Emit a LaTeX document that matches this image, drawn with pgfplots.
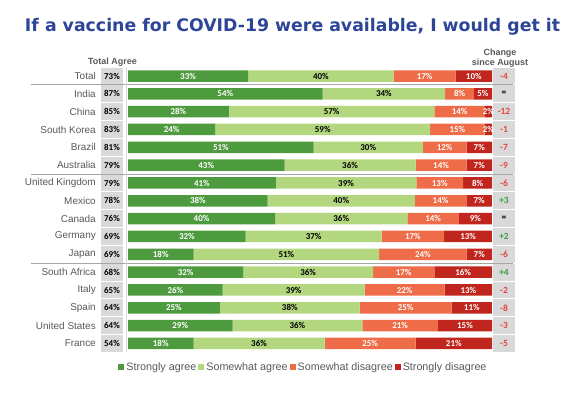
\documentclass[border=0pt]{standalone}
\usepackage{pgfplots}
\pgfplotsset{compat=1.18}
\usepackage{pgfplotstable}
\usepackage{fontspec}
\setmainfont{Liberation Sans}
\newfontfamily\carl{Carlito}
\newfontfamily\dejavu{DejaVu Sans}
\definecolor{dgreen}{HTML}{4E9A3E}
\definecolor{lgreen}{HTML}{B3D77F}
\definecolor{orng}{HTML}{EE6C47}
\definecolor{dred}{HTML}{C0261E}
\definecolor{boxgray}{HTML}{D9D9D9}
\definecolor{textgray}{HTML}{595959}
\definecolor{titleblue}{HTML}{2C4596}
\definecolor{chred}{HTML}{E8453C}
\definecolor{chgreen}{HTML}{3F9A3F}
\definecolor{sepgray}{HTML}{A6A6A6}

\pgfplotstableread{
idx ta sa sw sd sdd
0 73 33 40 17 10
1 87 54 34 8 5
2 85 28 57 14 2
3 83 24 59 15 2
4 81 51 30 12 7
5 79 43 36 14 7
6 79 41 39 13 8
7 78 38 40 14 7
8 76 40 36 14 9
9 69 32 37 17 13
10 69 18 51 24 7
11 68 32 36 17 16
12 65 26 39 22 13
13 64 25 38 25 11
14 64 29 36 21 15
15 54 18 36 25 21
}\data

\newcommand\tot{(\thisrow{sa}+\thisrow{sw}+\thisrow{sd}+\thisrow{sdd})}

\begin{document}
\begin{tikzpicture}
\path[use as bounding box] (0,0) rectangle (580bp,-393bp);
\pgfplotsset{base/.style={scale only axis, width=364bp, height=285.3bp,
  xmin=0, xmax=100, ymin=-0.5, ymax=15.5, y dir=reverse,
  at={(128bp,-67.08bp)}, anchor=north west,
  /pgf/number format/assume math mode=true}}
\begin{axis}[base, xbar stacked, bar width=11.5bp,
  axis line style={draw=none}, tick style={draw=none},
  xtick=\empty, ytick={0,...,15},
  yticklabels={Total, India, China, South Korea, Brazil, Australia, United Kingdom, Mexico, Canada, Germany, Japan, South Africa, Italy, Spain, United States, France},
  yticklabel style={font=\fontsize{10}{12}\selectfont, text=textgray, xshift=-28.7bp},
  legend columns=4,
  legend style={draw=none, fill=none, at={(0.482,-0.0512)}, anchor=center,
    font=\fontsize{10.8}{12}\selectfont, text=textgray,
    /tikz/every even column/.append style={column sep=0bp},
    inner sep=0pt},
  legend image code/.code={\fill[#1] (0bp,-3bp) rectangle (6bp,3bp);},
  ]
\addplot[fill=dgreen, draw=none] table[x expr=\thisrow{sa}*100/\tot, y=idx] {\data};
\addplot[fill=lgreen, draw=none] table[x expr=\thisrow{sw}*100/\tot, y=idx] {\data};
\addplot[fill=orng, draw=none] table[x expr=\thisrow{sd}*100/\tot, y=idx] {\data};
\addplot[fill=dred, draw=none] table[x expr=\thisrow{sdd}*100/\tot, y=idx] {\data};
\legend{Strongly agree, Somewhat agree, Somewhat disagree, Strongly disagree}
\end{axis}

\begin{axis}[base, hide axis, clip=false]
\pgfplotsinvokeforeach{0,...,15}{
  \fill[boxgray] (axis cs:-7.42,#1-0.47) rectangle (axis cs:-1.37,#1+0.47);
  \fill[boxgray] (axis cs:100.27,#1-0.47) rectangle (axis cs:106.3,#1+0.47);
}
\draw[sepgray, line width=1bp] (axis cs:-26.65,0.5) -- (axis cs:105.8,0.5);
\draw[sepgray, line width=1bp] (axis cs:-26.65,5.5) -- (axis cs:105.8,5.5);
\draw[sepgray, line width=1bp] (axis cs:-26.65,10.5) -- (axis cs:105.8,10.5);
\draw[gray!30, line width=0.6bp] (axis cs:-0.55,-0.5) -- (axis cs:-0.55,15.5);

\addplot[draw=none, point meta=explicit,
  nodes near coords={\pgfmathprintnumber{\pgfplotspointmeta}\%},
  every node near coord/.append style={anchor=center, text=white, font=\carl\bfseries\fontsize{9}{10}\selectfont}]
  table[x expr=\thisrow{sa}*50/\tot, y=idx, meta=sa] {\data};
\addplot[draw=none, point meta=explicit,
  nodes near coords={\pgfmathprintnumber{\pgfplotspointmeta}\%},
  every node near coord/.append style={anchor=center, text=black, font=\carl\bfseries\fontsize{9}{10}\selectfont}]
  table[x expr=(\thisrow{sa}+\thisrow{sw}/2)*100/\tot, y=idx, meta=sw] {\data};
\addplot[draw=none, point meta=explicit,
  nodes near coords={\pgfmathprintnumber{\pgfplotspointmeta}\%},
  every node near coord/.append style={anchor=center, text=white, font=\carl\bfseries\fontsize{9}{10}\selectfont}]
  table[x expr=(\thisrow{sa}+\thisrow{sw}+\thisrow{sd}/2)*100/\tot, y=idx, meta=sd] {\data};
\addplot[draw=none, point meta=explicit,
  nodes near coords={\pgfmathprintnumber{\pgfplotspointmeta}\%},
  every node near coord/.append style={anchor=center, text=white, font=\carl\bfseries\fontsize{9}{10}\selectfont}]
  table[x expr=(\thisrow{sa}+\thisrow{sw}+\thisrow{sd}+\thisrow{sdd}/2)*100/\tot, y=idx, meta=sdd] {\data};
% total agree
\addplot[draw=none, point meta=explicit,
  nodes near coords={\pgfmathprintnumber{\pgfplotspointmeta}\%},
  every node near coord/.append style={anchor=center, text=black, font=\carl\bfseries\fontsize{9}{10}\selectfont}]
  table[x expr=-4.4, y=idx, meta=ta] {\data};
% change since August
\addplot[draw=none, point meta=explicit symbolic, nodes near coords,
  every node near coord/.append style={anchor=center, text=chred, font=\carl\bfseries\fontsize{9.5}{10}\selectfont}]
  coordinates {(103.3,0)[-4] (103.3,2)[-12] (103.3,3)[-1] (103.3,4)[-7] (103.3,5)[-9] (103.3,6)[-6] (103.3,10)[-6] (103.3,12)[-2] (103.3,13)[-8] (103.3,14)[-3] (103.3,15)[-5]};
\addplot[draw=none, point meta=explicit symbolic, nodes near coords,
  every node near coord/.append style={anchor=center, text=chgreen, font=\carl\bfseries\fontsize{9.5}{10}\selectfont}]
  coordinates {(103.3,7)[+3] (103.3,9)[+2] (103.3,11)[+4]};
\addplot[draw=none, point meta=explicit symbolic, nodes near coords,
  every node near coord/.append style={anchor=center, text=black, font=\carl\bfseries\fontsize{9.5}{10}\selectfont}]
  coordinates {(103.3,1)[=] (103.3,8)[=]};
\end{axis}

\node[anchor=base, text=titleblue] at (292.5bp,-31bp) {\resizebox{535bp}{!}{\dejavu\bfseries\fontsize{17}{20}\selectfont If a vaccine for COVID-19 were available, I would get it}};
\node[anchor=base, text=textgray, font=\bfseries\fontsize{9}{10}\selectfont] at (112.5bp,-64.5bp) {Total Agree};
\node[anchor=base, text=textgray, font=\bfseries\fontsize{9}{10}\selectfont] at (500bp,-55bp) {Change};
\node[anchor=base, text=textgray, font=\bfseries\fontsize{9}{10}\selectfont] at (500bp,-65.5bp) {since August};
\end{tikzpicture}
\end{document}
